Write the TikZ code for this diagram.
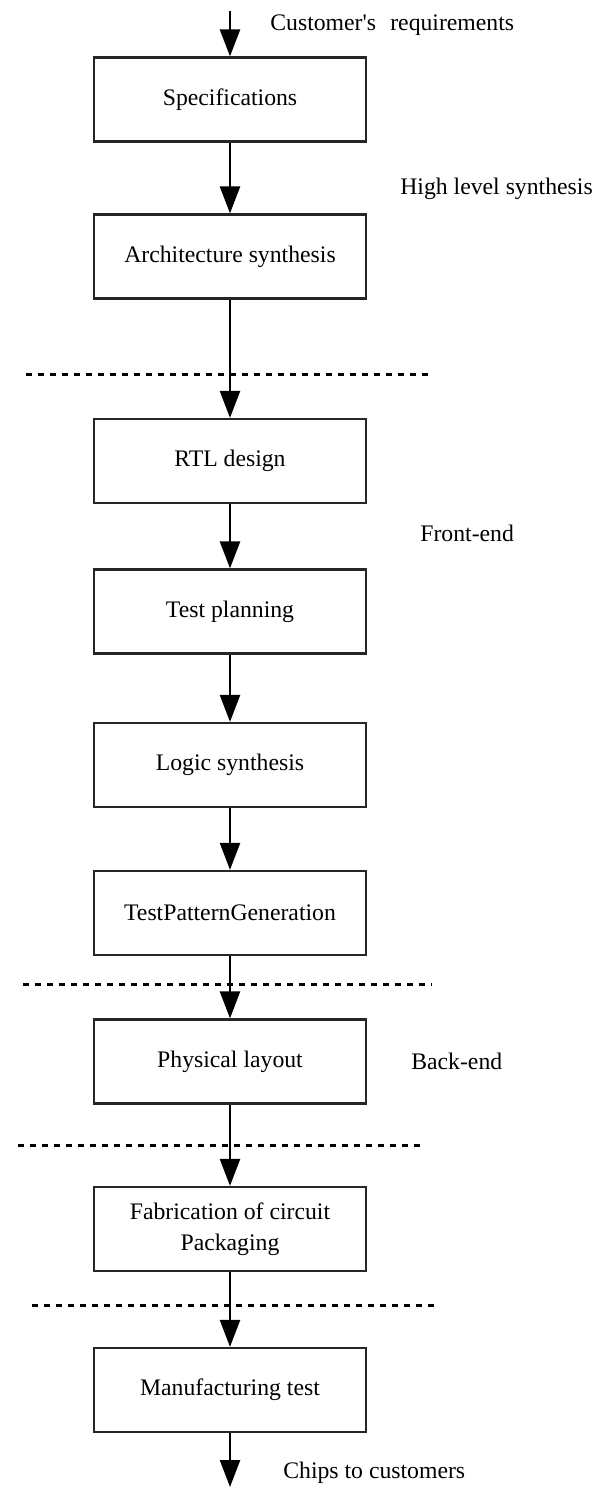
\documentclass[tikz,border=0pt]{standalone}
\usepackage{fontspec}
\setmainfont{Liberation Serif}
\usetikzlibrary{arrows.meta}

\tikzset{
  stage/.style={draw=black!85, line width=1.3pt, minimum width=5.44cm,
    minimum height=1.68cm, inner sep=0pt, align=center, font=\fontsize{13.5}{17.5}\selectfont},
  flow/.style={line width=1.4pt, -{Triangle[length=5.4mm,width=4mm]}},
  phase/.style={line width=1.7pt, dash pattern=on 0.13cm off 0.11cm},
  note/.style={anchor=west, inner sep=0pt, font=\fontsize{13.5}{16}\selectfont}
}

\begin{document}
\begin{tikzpicture}[x=0.02cm,y=-0.02cm]
\useasboundingbox (0,0) rectangle (608,1495);

% design stages
\node[stage] (spec)  at (230,99.5)  {Specifications};
\node[stage] (arch)  at (230,256.5) {Architecture synthesis};
\node[stage] (rtl)   at (230,461)   {RTL design};
\node[stage] (plan)  at (230,611.5) {Test planning};
\node[stage] (logic) at (230,765)   {Logic synthesis};
\node[stage] (tpg)   at (230,913)   {TestPatternGeneration};
\node[stage] (phys)  at (230,1061.5) {Physical layout};
\node[stage] (fab)   at (230,1229)  {Fabrication of circuit\\Packaging};
\node[stage] (mtest) at (230,1390)  {Manufacturing test};

% phase borders
\draw[phase] (26,374) -- (433,374);
\draw[phase] (23,984) -- (431,984);
\draw[phase] (18,1145) -- (425,1145);
\draw[phase] (32,1305) -- (438,1305);

% flow between stages
\coordinate (cin) at (230,11);
\coordinate (cout) at (230,1487);
\draw[flow] (cin) -- (spec);
\draw[flow] (spec) -- (arch);
\draw[flow] (arch) -- (rtl);
\draw[flow] (rtl) -- (plan);
\draw[flow] (plan) -- (logic);
\draw[flow] (logic) -- (tpg);
\draw[flow] (tpg) -- (phys);
\draw[flow] (phys) -- (fab);
\draw[flow] (fab) -- (mtest);
\draw[flow] (mtest) -- (cout);

% side notes
\node[note] (req)   at (270,25)   {Customer\textquotesingle s\hspace{0.6em}requirements};
\node[note] (hls)   at (400,189)  {High level synthesis};
\node[note] (front) at (420,533)  {Front-end};
\node[note] (back)  at (411,1061) {Back-end};
\node[note] (chips) at (283,1473) {Chips to customers};

\end{tikzpicture}
\end{document}
